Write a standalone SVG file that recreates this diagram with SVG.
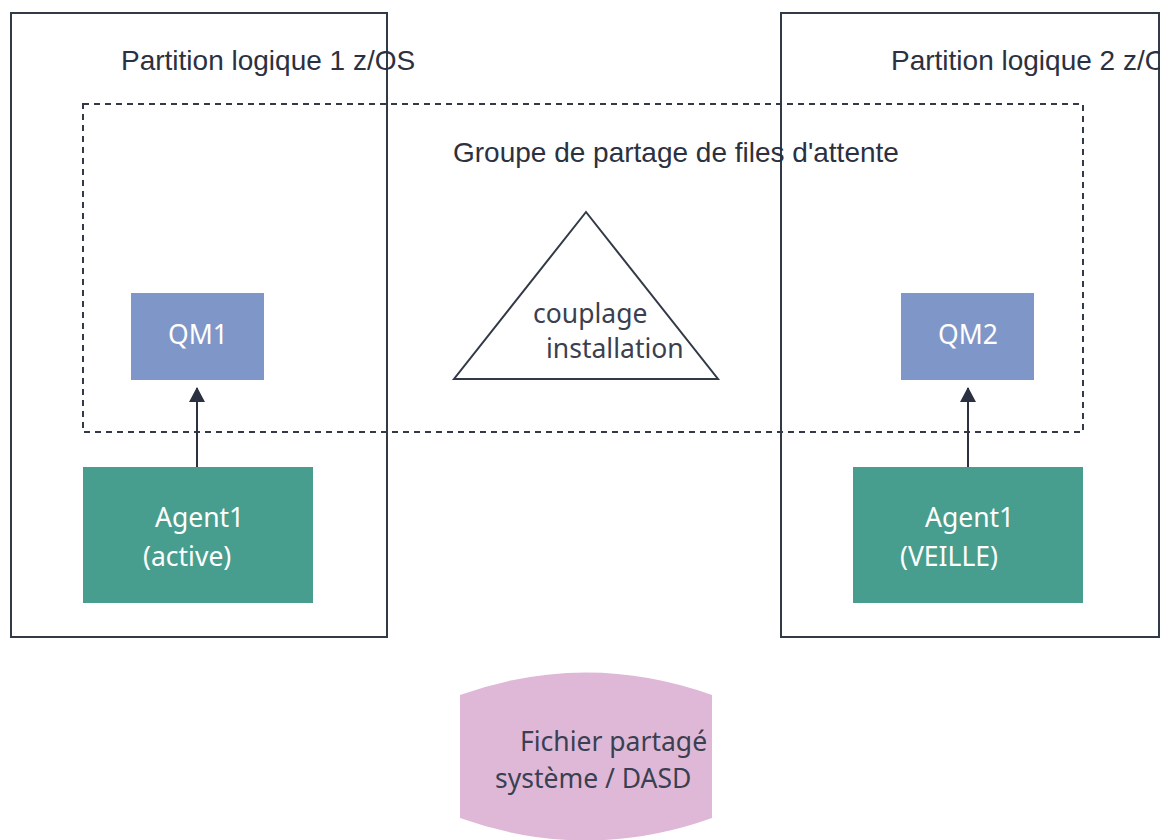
<svg xmlns="http://www.w3.org/2000/svg" width="1160" height="840" viewBox="0 0 1160 840">
<style>
.frame{fill:none;stroke:#333a47;stroke-width:2}
.dash{fill:none;stroke:#333a47;stroke-width:2;stroke-dasharray:6 5}
.title{font-family:"Liberation Sans",Arial,sans-serif;font-size:28px;fill:#2b3140}
.lbl{font-family:"Noto Sans","Open Sans",sans-serif;font-size:26.5px}
.w{fill:#ffffff}
.d{fill:#3a4050}
.qm{fill:#7f97c8}
.ag{fill:#479e8e}
.conn{stroke:#2b3140;stroke-width:2;fill:none}
</style>
<defs>
<marker id="ah" markerWidth="16" markerHeight="16" refX="14" refY="8" orient="auto" markerUnits="userSpaceOnUse">
<path d="M0,0 L15,8 L0,16 Z" fill="#2b3140"/>
</marker>
</defs>
<rect width="1160" height="840" fill="#ffffff"/>
<g id="partition1">
<rect class="frame" x="11" y="13" width="376" height="624"/>
<text class="title" x="121" y="70">Partition logique 1 z/OS</text>
</g>
<g id="partition2">
<rect class="frame" x="781" y="13" width="378" height="624"/>
<text class="title" x="891" y="70">Partition logique 2 z/OS</text>
</g>
<g id="qsg">
<rect class="dash" x="83" y="104" width="1000" height="328"/>
<text class="title" x="453" y="162">Groupe de partage de files d'attente</text>
</g>
<g id="cf">
<polygon points="586,212 454,379 718,379" fill="#ffffff" stroke="#333a47" stroke-width="2"/>
<text class="lbl d" x="533" y="323">couplage</text>
<text class="lbl d" x="546" y="358">installation</text>
</g>
<g id="qm1">
<rect class="qm" x="131" y="293" width="133" height="87"/>
<text class="lbl w" x="198" y="344" text-anchor="middle">QM1</text>
</g>
<g id="qm2">
<rect class="qm" x="901" y="293" width="133" height="87"/>
<text class="lbl w" x="968" y="344" text-anchor="middle">QM2</text>
</g>
<g id="agent1a">
<rect class="ag" x="83" y="467" width="230" height="136"/>
<text class="lbl w" x="155" y="527">Agent1</text>
<text class="lbl w" x="143" y="566">(active)</text>
</g>
<g id="agent1b">
<rect class="ag" x="853" y="467" width="230" height="136"/>
<text class="lbl w" x="925" y="527">Agent1</text>
<text class="lbl w" x="900" y="566">(VEILLE)</text>
</g>
<g id="dasd">
<path d="M460,695 Q586,650 712,695 L712,818 Q586,863 460,818 Z" fill="#dfb8d8"/>
<text class="lbl d" x="520" y="751">Fichier partagé</text>
<text class="lbl d" x="495" y="788">système / DASD</text>
</g>
<g id="connectors">
<line class="conn" x1="197" y1="467" x2="197" y2="388" marker-end="url(#ah)"/>
<line class="conn" x1="968" y1="467" x2="968" y2="388" marker-end="url(#ah)"/>
</g>
</svg>
